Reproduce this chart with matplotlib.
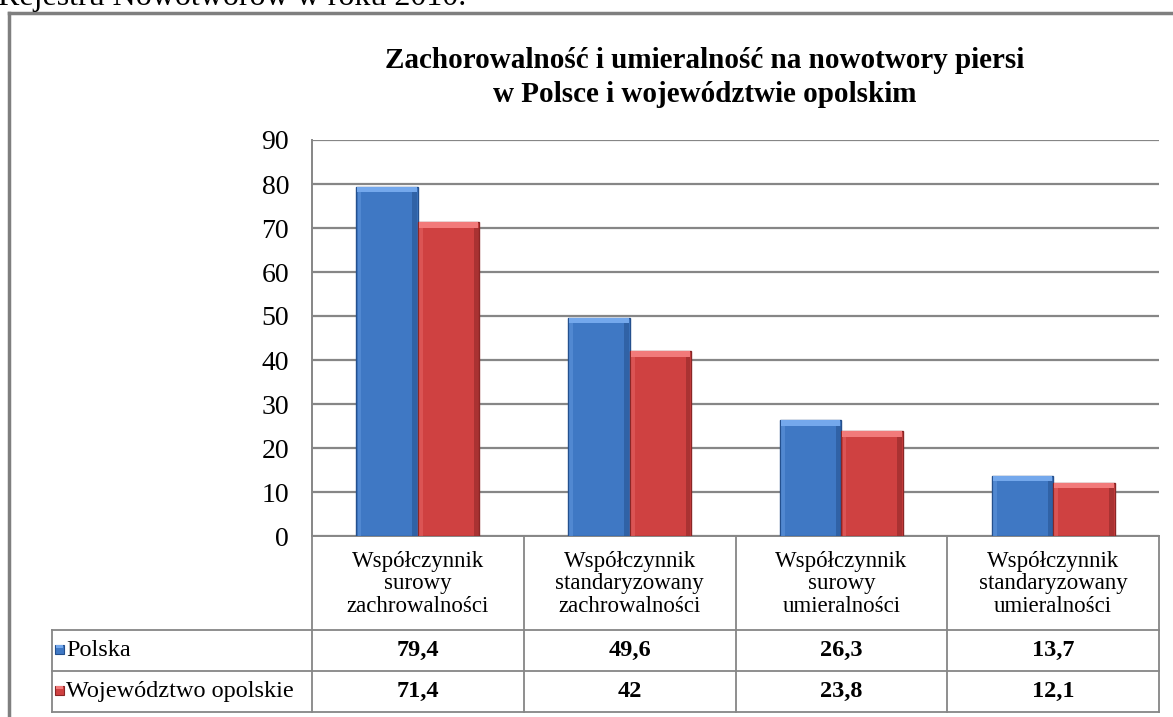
import matplotlib.pyplot as plt
import matplotlib.transforms as mtransforms
from matplotlib.lines import Line2D
from matplotlib.patches import Rectangle

plt.rcParams['font.family'] = ['Liberation Serif', 'DejaVu Serif']

categories = ['Współczynnik\nsurowy\nzachrowalności',
              'Współczynnik\nstandaryzowany\nzachrowalności',
              'Współczynnik\nsurowy\numieralności',
              'Współczynnik\nstandaryzowany\numieralności']
series_names = ['Polska', 'Województwo opolskie']
polska = [79.4, 49.6, 26.3, 13.7]
opolskie = [71.4, 42, 23.8, 12.1]
polska_labels = ['79,4', '49,6', '26,3', '13,7']
opolskie_labels = ['71,4', '42', '23,8', '12,1']
yticks = [0, 10, 20, 30, 40, 50, 60, 70, 80, 90]

W, H = 1173, 717
fig = plt.figure(figsize=(W / 100, H / 100), dpi=100)


def fy(py):
    # pixel row -> figure fraction
    return 1 - py / H


def fx(px):
    return px / W


ax_left, ax_right, ax_top, ax_bottom = 312, 1159, 140, 536
ax = fig.add_axes([fx(ax_left), fy(ax_bottom), fx(ax_right - ax_left), (ax_bottom - ax_top) / H])

grid_c = '#868686'
x = list(range(len(categories)))
bw = 0.29

styles = [
    ('#3f78c4', '#74a8ec', '#24508e', polska, -bw / 2),
    ('#cf4141', '#f27a7a', '#8a2626', opolskie, bw / 2),
]
for main, light, dark, vals, off in styles:
    xs = [i + off for i in x]
    ax.bar(xs, vals, width=bw, color=main, edgecolor=dark, linewidth=1.0, zorder=3)
    # bevel: lighter top cap and darker right side
    cap = 1.3
    ax.bar(xs, [cap] * len(vals), bottom=[v - cap for v in vals], width=bw * 0.97,
           color=light, linewidth=0, zorder=4)
    ax.bar([xx + bw * 0.45 for xx in xs], [v - cap for v in vals], width=bw * 0.08,
           color=dark, alpha=0.55, linewidth=0, zorder=4)
    ax.bar([xx - bw * 0.45 for xx in xs], [v - cap for v in vals], width=bw * 0.06,
           color=light, alpha=0.35, linewidth=0, zorder=4)

ax.set_xlim(-0.5, len(categories) - 0.5)
ax.set_ylim(0, 90)
ax.set_yticks(yticks)
ax.set_yticklabels([str(t) for t in yticks], fontsize=20)
ax.set_xticks([])
ax.tick_params(axis='y', length=0, pad=16.5)
ax.yaxis.grid(True, color=grid_c, linewidth=1.6, zorder=0)
ax.set_axisbelow(True)
for s in ['top', 'right']:
    ax.spines[s].set_visible(False)
ax.spines['left'].set_color(grid_c)
ax.spines['left'].set_linewidth(1.4)
ax.spines['bottom'].set_color(grid_c)
ax.spines['bottom'].set_linewidth(1.4)

# data table below the plot
tr = mtransforms.blended_transform_factory(ax.transData, fig.transFigure)
row_head, row_p, row_o = 630, 671, 712
tab_left = 52
lw = 1.3
for b in [i - 0.5 for i in x] + [len(x) - 0.5]:
    fig.add_artist(Line2D([b, b], [fy(ax_bottom), fy(row_o)], transform=tr, color=grid_c, lw=lw))
for ry in [row_head, row_p, row_o]:
    fig.add_artist(Line2D([fx(tab_left), fx(ax_right)], [fy(ry), fy(ry)], color=grid_c, lw=lw))
fig.add_artist(Line2D([fx(tab_left), fx(tab_left)], [fy(row_head), fy(row_o)], color=grid_c, lw=lw))

for i, cat in enumerate(categories):
    fig.text(i, fy((ax_bottom + row_head) / 2 + 1), cat, transform=tr, ha='center', va='center',
             fontsize=16.5, linespacing=1.1)
    fig.text(i, fy((row_head + row_p) / 2), polska_labels[i], transform=tr, ha='center',
             va='center', fontsize=17.5, fontweight='bold')
    fig.text(i, fy((row_p + row_o) / 2), opolskie_labels[i], transform=tr, ha='center',
             va='center', fontsize=17.5, fontweight='bold')

for (main, light, dark, vals, off), name, (r0, r1) in zip(styles, series_names,
                                                        [(row_head, row_p), (row_p, row_o)]):
    cy = (r0 + r1) / 2
    fig.add_artist(Rectangle((fx(55), fy(cy + 3)), fx(9), 9 / H, facecolor=main,
                             edgecolor=dark, lw=0.8))
    fig.add_artist(Rectangle((fx(56), fy(cy - 3)), fx(7), 3 / H, facecolor=light, lw=0))
    fig.text(fx(66), fy(cy), name, ha='left', va='center', fontsize=17.5)

# title
fig.text(fx(705), fy(60), 'Zachorowalność i umieralność na nowotwory piersi',
         ha='center', va='center', fontsize=21, fontweight='bold')
fig.text(fx(705), fy(95), 'w Polsce i województwie opolskim',
         ha='center', va='center', fontsize=21, fontweight='bold')

# chart frame (cropped) and cut-off document text above it
fig.add_artist(Line2D([fx(9), fx(9)], [fy(13), 0], color='#7f7f7f', lw=2.5))
fig.add_artist(Line2D([fx(9), 1], [fy(13), fy(13)], color='#7f7f7f', lw=2.5))
fig.text(fx(-2), fy(5), 'Rejestru Nowotworów w roku 2010.', ha='left', va='baseline',
         fontsize=23)

fig.savefig('out.png', dpi=100)
